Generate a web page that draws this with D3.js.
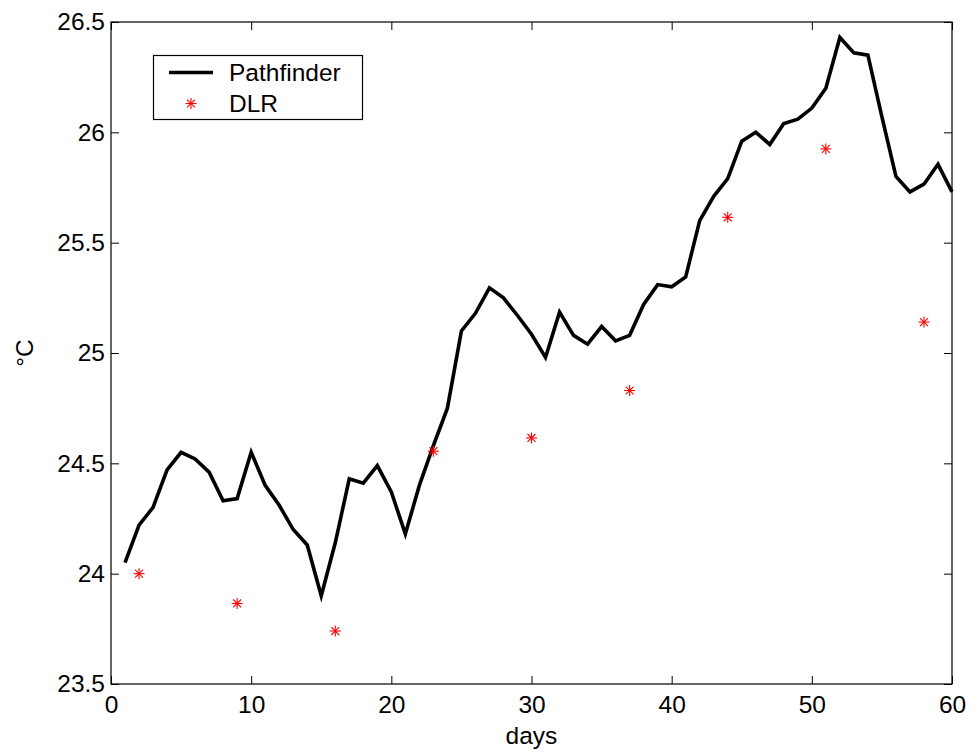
<!DOCTYPE html>
<html>
<head>
<meta charset="utf-8">
<script src="https://cdn.jsdelivr.net/npm/d3@7"></script>
<style>
  html, body { margin: 0; padding: 0; background: #fff; }
  svg { display: block; }
  text { font-family: "Liberation Sans", Arial, Helvetica, sans-serif; fill: #000; }
</style>
</head>
<body>
<svg id="chart" width="971" height="753"></svg>
<script>
// Daily SST series (Pathfinder) and the weekly DLR estimates
const pathfinderDays = d3.range(1, 61);
const pathfinderTemps = [
  24.05, 24.22, 24.30, 24.47, 24.55, 24.52, 24.46, 24.33, 24.34, 24.55,
  24.40, 24.31, 24.20, 24.13, 23.90, 24.14, 24.43, 24.41, 24.49, 24.37,
  24.18, 24.40, 24.58, 24.75, 25.10, 25.18, 25.295, 25.25, 25.17, 25.085,
  24.98, 25.185, 25.08, 25.04, 25.12, 25.055, 25.08, 25.22, 25.31, 25.30,
  25.345, 25.60, 25.71, 25.79, 25.96, 26.00, 25.945, 26.04, 26.06, 26.11,
  26.20, 26.43, 26.36, 26.35, 26.07, 25.80, 25.73, 25.765, 25.855, 25.73
];
const dlrDays = [2, 9, 16, 23, 30, 37, 44, 51, 58];
const dlrTemps = [24.00, 23.865, 23.74, 24.555, 24.615, 24.83, 25.615, 25.925, 25.14];

const xTicks = [0, 10, 20, 30, 40, 50, 60];
const yTicks = [23.5, 24, 24.5, 25, 25.5, 26, 26.5];
const seriesNames = ["Pathfinder", "DLR"];

const svg = d3.select("#chart");
const plotLeft = 111, plotRight = 952, plotTop = 22, plotBottom = 684;
const fontSize = 24.5;

const x = d3.scaleLinear().domain([0, 60]).range([plotLeft, plotRight]);
const y = d3.scaleLinear().domain([23.5, 26.5]).range([plotBottom, plotTop]);

// Axes with inward ticks on all four sides
const tickLen = 8;
const axisB = d3.axisBottom(x).tickValues(xTicks).tickFormat(d3.format("d"))
  .tickSizeInner(-tickLen).tickSizeOuter(0).tickPadding(12);
const axisT = d3.axisTop(x).tickValues(xTicks).tickFormat("")
  .tickSizeInner(-tickLen).tickSizeOuter(0);
const axisL = d3.axisLeft(y).tickValues(yTicks).tickFormat(d => String(d))
  .tickSizeInner(-tickLen).tickSizeOuter(0).tickPadding(6);
const axisR = d3.axisRight(y).tickValues(yTicks).tickFormat("")
  .tickSizeInner(-tickLen).tickSizeOuter(0);

function styleAxis(g) {
  g.select(".domain").remove();
  g.selectAll(".tick line").attr("stroke", "#000").attr("stroke-width", 1);
  g.selectAll(".tick text").attr("font-size", fontSize)
    .attr("font-family", "'Liberation Sans', Arial, sans-serif").attr("fill", "#000");
}

svg.append("g").attr("transform", `translate(0,${plotBottom})`).call(axisB).call(styleAxis);
svg.append("g").attr("transform", `translate(0,${plotTop})`).call(axisT).call(styleAxis);
svg.append("g").attr("transform", `translate(${plotLeft},0)`).call(axisL).call(styleAxis);
svg.append("g").attr("transform", `translate(${plotRight},0)`).call(axisR).call(styleAxis);

// Frame
svg.append("rect")
  .attr("x", plotLeft).attr("y", plotTop)
  .attr("width", plotRight - plotLeft).attr("height", plotBottom - plotTop)
  .attr("fill", "none").attr("stroke", "#000").attr("stroke-width", 1.2);

// Pathfinder line
const line = d3.line()
  .x((d, i) => x(pathfinderDays[i]))
  .y(d => y(d));

svg.append("path")
  .datum(pathfinderTemps)
  .attr("d", line)
  .attr("fill", "none")
  .attr("stroke", "#000")
  .attr("stroke-width", 3.6)
  .attr("stroke-linejoin", "miter");

// Asterisk marker: plus and cross combined
function asterisk(g, cx, cy, r) {
  const d = r * 0.72;
  const segs = [
    [cx - r, cy, cx + r, cy],
    [cx, cy - r, cx, cy + r],
    [cx - d, cy - d, cx + d, cy + d],
    [cx - d, cy + d, cx + d, cy - d]
  ];
  segs.forEach(s => g.append("line")
    .attr("x1", s[0]).attr("y1", s[1]).attr("x2", s[2]).attr("y2", s[3])
    .attr("stroke", "#ff0000").attr("stroke-width", 1.1));
}

const dlrG = svg.append("g");
dlrDays.forEach((d, i) => asterisk(dlrG, x(d), y(dlrTemps[i]), 5.5));

// Axis titles
svg.append("text")
  .attr("x", (plotLeft + plotRight) / 2).attr("y", 744)
  .attr("text-anchor", "middle").attr("font-size", fontSize)
  .text("days");

svg.append("text")
  .attr("transform", `translate(33,${(plotTop + plotBottom) / 2}) rotate(-90)`)
  .attr("text-anchor", "middle").attr("font-size", fontSize)
  .text("°C");

// Legend
const lg = svg.append("g");
lg.append("rect")
  .attr("x", 153.5).attr("y", 55.5).attr("width", 209).attr("height", 64)
  .attr("fill", "#fff").attr("stroke", "#000").attr("stroke-width", 1.2);
lg.append("line")
  .attr("x1", 169).attr("x2", 213).attr("y1", 72.5).attr("y2", 72.5)
  .attr("stroke", "#000").attr("stroke-width", 3.6);
asterisk(lg, 191, 103.5, 5.5);
lg.append("text").attr("x", 229).attr("y", 81).attr("font-size", fontSize).text(seriesNames[0]);
lg.append("text").attr("x", 229).attr("y", 112).attr("font-size", fontSize).text(seriesNames[1]);
</script>
</body>
</html>
